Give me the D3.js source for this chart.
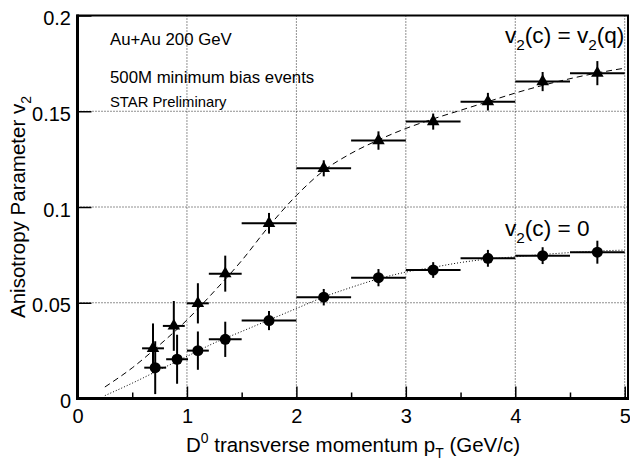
<!DOCTYPE html>
<html>
<head>
<meta charset="utf-8">
<script src="https://cdn.jsdelivr.net/npm/d3@7"></script>
<style>
  body { margin: 0; background: #fff; }
  text { font-family: "Liberation Sans", Arial, Helvetica, sans-serif; fill: #000; }
</style>
</head>
<body>
<div id="chart"></div>
<script>
// data
const ptTri = [0.69, 0.88, 1.1, 1.35, 1.75, 2.25, 2.75, 3.25, 3.75, 4.25, 4.75]
const ptCirc = [0.71, 0.91, 1.1, 1.35, 1.75, 2.25, 2.75, 3.25, 3.75, 4.25, 4.75]
const ptErr = [0.1, 0.1, 0.1, 0.15, 0.25, 0.25, 0.25, 0.25, 0.25, 0.25, 0.25]
const v2Tri = [0.0262, 0.0379, 0.0497, 0.0652, 0.0915, 0.1202, 0.1347, 0.1446, 0.155, 0.1655, 0.1699]
const v2TriErr = [0.013, 0.013, 0.0105, 0.0094, 0.0054, 0.0042, 0.0048, 0.0042, 0.0046, 0.005, 0.0063]
const v2Circ = [0.0161, 0.0205, 0.025, 0.0309, 0.0407, 0.0529, 0.0631, 0.0671, 0.0732, 0.0746, 0.0764]
const v2CircErr = [0.0138, 0.0128, 0.01, 0.0092, 0.005, 0.0043, 0.0045, 0.0041, 0.0044, 0.0044, 0.006]

// model curves
const curvePt = [0.25, 0.5, 0.75, 1.0, 1.25, 1.5, 1.75, 2.0, 2.25, 2.5, 2.75, 3.0, 3.25, 3.5, 3.75, 4.0, 4.25, 4.5, 4.75, 5.0]
const curveQuark = [0.006, 0.016, 0.028, 0.041, 0.056, 0.072, 0.09, 0.106, 0.119, 0.128, 0.135, 0.141, 0.146, 0.1505, 0.155, 0.1595, 0.1635, 0.167, 0.170, 0.1725]
const curveZero = [0.0015, 0.008, 0.015, 0.022, 0.029, 0.035, 0.041, 0.047, 0.053, 0.058, 0.0625, 0.066, 0.0685, 0.071, 0.0728, 0.074, 0.0752, 0.0762, 0.077, 0.0775]

const xTicks = [0, 1, 2, 3, 4, 5]
const xMinorTicks = [0.5, 1.5, 2.5, 3.5, 4.5]
const yTicks = [0, 0.05, 0.1, 0.15, 0.2]

// sizes
const width = 630
const height = 463
const plot = { left: 77.5, right: 628, top: 15.5, bottom: 398.5 }

const svg = d3.select("#chart").append("svg").attr("width", width).attr("height", height)
svg.append("rect").attr("width", width).attr("height", height).attr("fill", "#fff")

// scales
const x = d3.scaleLinear().domain([0, 5.03]).range([plot.left, plot.right])
const y = d3.scaleLinear().domain([0, 0.2]).range([plot.bottom, plot.top])

// grid
const grid = svg.append("g").attr("stroke", "#222").attr("stroke-width", 1).attr("stroke-dasharray", "1,2")
grid.selectAll(".gx").data(xTicks.slice(1)).enter().append("line")
  .attr("x1", d => x(d)).attr("x2", d => x(d)).attr("y1", plot.top).attr("y2", plot.bottom)
grid.selectAll(".gy").data(yTicks.slice(1, -1)).enter().append("line")
  .attr("x1", plot.left).attr("x2", plot.right).attr("y1", d => y(d)).attr("y2", d => y(d))

// axes
const xAxisGroup = svg.append("g").attr("transform", `translate(0, ${plot.bottom})`)
  .call(d3.axisBottom(x).tickValues(xTicks).tickFormat(d3.format("d")).tickSize(-12).tickSizeOuter(0).tickPadding(10))
xAxisGroup.select(".domain").remove()
xAxisGroup.selectAll("line").attr("stroke-width", 1.5)
xAxisGroup.selectAll("text").attr("font-size", 20).attr("font-family", null)

const xMinorGroup = svg.append("g").attr("transform", `translate(0, ${plot.bottom})`)
  .call(d3.axisBottom(x).tickValues(xMinorTicks).tickFormat("").tickSize(-6).tickSizeOuter(0))
xMinorGroup.select(".domain").remove()
xMinorGroup.selectAll("line").attr("stroke-width", 1.5)

const yAxisGroup = svg.append("g").attr("transform", `translate(${plot.left}, 0)`)
  .call(d3.axisLeft(y).tickValues(yTicks).tickFormat(d => d === 0 ? "0" : d3.format("")(d)).tickSize(-14).tickSizeOuter(0).tickPadding(6.5))
yAxisGroup.select(".domain").remove()
yAxisGroup.selectAll("line").attr("stroke-width", 1.5)
yAxisGroup.selectAll("text").attr("font-size", 20).attr("font-family", null).attr("dy", "0.45em")

// frame
svg.append("rect").attr("x", plot.left).attr("y", plot.top).attr("width", plot.right - plot.left).attr("height", plot.bottom - plot.top)
  .attr("fill", "none").attr("stroke", "#000").attr("stroke-width", 2)
svg.append("path").attr("d", `M${plot.left},${plot.top - 1}V${plot.bottom}H${plot.right + 1}`)
  .attr("fill", "none").attr("stroke", "#000").attr("stroke-width", 3)

// curves
const line = d3.line().x(d => x(d[0])).y(d => y(d[1])).curve(d3.curveMonotoneX)
svg.append("path").datum(curvePt.map((p, i) => [p, curveQuark[i]]))
  .attr("d", line).attr("fill", "none").attr("stroke", "#000").attr("stroke-width", 1).attr("stroke-dasharray", "6,4")
svg.append("path").datum(curvePt.map((p, i) => [p, curveZero[i]]))
  .attr("d", line).attr("fill", "none").attr("stroke", "#000").attr("stroke-width", 1).attr("stroke-dasharray", "1,2")

// data points with error bars
function drawSeries(pts, vals, errs, shape) {
  const g = svg.append("g")
  const data = pts.map((p, i) => ({ p: p, v: vals[i], e: errs[i], w: ptErr[i] }))
  g.selectAll(".eh").data(data).enter().append("line")
    .attr("x1", d => x(d.p - d.w)).attr("x2", d => x(d.p + d.w))
    .attr("y1", d => y(d.v)).attr("y2", d => y(d.v))
    .attr("stroke", "#000").attr("stroke-width", 2)
  g.selectAll(".ev").data(data).enter().append("line")
    .attr("x1", d => x(d.p)).attr("x2", d => x(d.p))
    .attr("y1", d => y(d.v - d.e)).attr("y2", d => y(d.v + d.e))
    .attr("stroke", "#000").attr("stroke-width", 2)
  g.selectAll(".m").data(data).enter().append("path")
    .attr("transform", d => `translate(${x(d.p)}, ${y(d.v)})`)
    .attr("d", d3.symbol().type(shape).size(shape === d3.symbolCircle ? 95 : 68))
    .attr("fill", "#000")
}
drawSeries(ptTri, v2Tri, v2TriErr, d3.symbolTriangle)
drawSeries(ptCirc, v2Circ, v2CircErr, d3.symbolCircle)

// text with sub/superscripts
function richText(parent, parts, attrs) {
  const t = parent.append("text")
  Object.keys(attrs).forEach(k => t.attr(k, attrs[k]))
  let shift = 0
  parts.forEach(p => {
    const target = p.sub ? 0.3 : p.sup ? -0.45 : 0
    const fs = p.sub || p.sup ? 0.68 : 1
    t.append("tspan").text(p.t).attr("font-size", `${fs}em`)
      .attr("dy", `${((target - shift) / fs).toFixed(3)}em`)
    shift = target
  })
  return t
}

// labels
svg.append("text").text("Au+Au 200 GeV").attr("x", 110).attr("y", 45).attr("font-size", 16.8)
svg.append("text").text("500M minimum bias events").attr("x", 110).attr("y", 83).attr("font-size", 16.8)
svg.append("text").text("STAR Preliminary").attr("x", 110).attr("y", 107).attr("font-size", 14.8)

richText(svg, [{ t: "v" }, { t: "2", sub: true }, { t: "(c) = v" }, { t: "2", sub: true }, { t: "(q)" }],
  { x: 505, y: 43, "font-size": 22.6 })
richText(svg, [{ t: "v" }, { t: "2", sub: true }, { t: "(c) = 0" }],
  { x: 505, y: 236, "font-size": 22.6 })

richText(svg, [{ t: "D" }, { t: "0", sup: true }, { t: " transverse momentum p" }, { t: "T", sub: true }, { t: " (GeV/c)" }],
  { x: 353, y: 452, "font-size": 20.5, "text-anchor": "middle" })
richText(svg, [{ t: "Anisotropy Parameter v" }, { t: "2", sub: true }],
  { transform: "translate(25, 207) rotate(-90)", "font-size": 20.5, "text-anchor": "middle" })
</script>
</body>
</html>
